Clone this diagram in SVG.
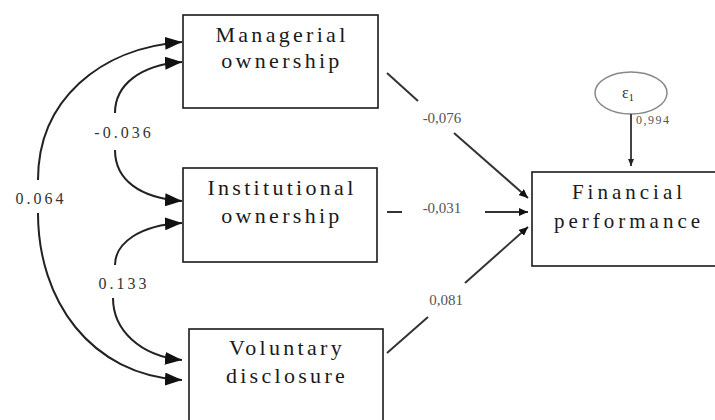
<svg xmlns="http://www.w3.org/2000/svg" width="715" height="420" viewBox="0 0 715 420">
<defs>
<style>
text{font-family:"Liberation Serif","Times New Roman",Times,serif}
.box{fill:#fff;stroke:#1a1a1a;stroke-width:1.6}
.nt{font-size:22px;fill:#1a1a1a;text-anchor:middle;letter-spacing:3.3px}
.ft{font-size:21px;fill:#1a1a1a;text-anchor:middle;letter-spacing:4px}
.cv{fill:none;stroke:#222;stroke-width:2}
.ln{fill:none;stroke:#333;stroke-width:2}
.cl{font-size:16px;fill:#333;text-anchor:middle;letter-spacing:3px}
.pl{font-size:15px;fill:#555;text-anchor:middle}
.sm{font-size:12px;fill:#555;letter-spacing:1.5px}
.ep{font-size:16px;fill:#333;text-anchor:middle}
</style>
<marker id="big" markerUnits="userSpaceOnUse" markerWidth="17" markerHeight="13" refX="17" refY="6.5" orient="auto">
<path d="M0,0 L17,6.5 L0,13 z" fill="#111"/>
</marker>
<marker id="sm" markerUnits="userSpaceOnUse" markerWidth="9" markerHeight="8" refX="9" refY="4" orient="auto">
<path d="M0,0 L9,4 L0,8 z" fill="#111"/>
</marker>
<marker id="tiny" markerUnits="userSpaceOnUse" markerWidth="7" markerHeight="6" refX="7" refY="3" orient="auto">
<path d="M0,0 L7,3 L0,6 z" fill="#222"/>
</marker>
</defs>
<rect width="715" height="420" fill="#fff"/>

<g id="managerial">
<rect class="box" x="183" y="15" width="195" height="93"/>
<text class="nt" x="282" y="42">Managerial</text>
<text class="nt" x="282" y="68">ownership</text>
</g>
<g id="institutional">
<rect class="box" x="183" y="168" width="194" height="94"/>
<text class="nt" x="282" y="195">Institutional</text>
<text class="nt" x="282" y="223">ownership</text>
</g>
<g id="voluntary">
<rect class="box" x="189" y="329" width="194" height="100"/>
<text class="nt" x="287" y="355">Voluntary</text>
<text class="nt" x="287" y="383">disclosure</text>
</g>
<g id="financial">
<rect class="box" x="532" y="172" width="200" height="94"/>
<text class="ft" x="629" y="199">Financial</text>
<text class="ft" x="629" y="228">performance</text>
</g>
<g id="epsilon">
<ellipse cx="631" cy="93" rx="36" ry="21" fill="#fff" stroke="#888" stroke-width="1.5"/>
<text class="ep" x="628" y="98">ε<tspan font-size="11" dy="3">1</tspan></text>
</g>

<g id="connectors">
<path class="cv" d="M38,180 C38,100 100,48 182,42" marker-end="url(#big)"/>
<path class="cv" d="M38,213 C38,300 90,375 182,380" marker-end="url(#big)"/>
<path class="cv" d="M115,113 C115,85 140,65 182,62" marker-end="url(#big)"/>
<path class="cv" d="M115,150 C115,180 140,198 182,201" marker-end="url(#big)"/>
<path class="cv" d="M115,265 C115,243 140,225 182,223" marker-end="url(#big)"/>
<path class="cv" d="M113,298 C113,330 140,356 182,360" marker-end="url(#big)"/>

<line class="ln" x1="387" y1="73" x2="418" y2="101"/>
<line class="ln" x1="454" y1="133" x2="528" y2="198" marker-end="url(#sm)"/>
<line class="ln" x1="387" y1="212" x2="402" y2="212"/>
<line class="ln" x1="485" y1="212" x2="528" y2="212" marker-end="url(#sm)"/>
<line class="ln" x1="387" y1="353" x2="428" y2="317"/>
<line class="ln" x1="465" y1="283" x2="528" y2="227" marker-end="url(#sm)"/>
<line x1="631" y1="114" x2="631" y2="166" stroke="#444" stroke-width="2" marker-end="url(#tiny)"/>

<text class="cl" x="41" y="204">0.064</text>
<text class="cl" x="124" y="138">-0.036</text>
<text class="cl" x="124" y="289">0.133</text>
<text class="pl" x="442" y="123">-0,076</text>
<text class="pl" x="442" y="213">-0,031</text>
<text class="pl" x="446" y="305">0,081</text>
<text class="sm" x="636" y="124">0,994</text>
</g>
</svg>
